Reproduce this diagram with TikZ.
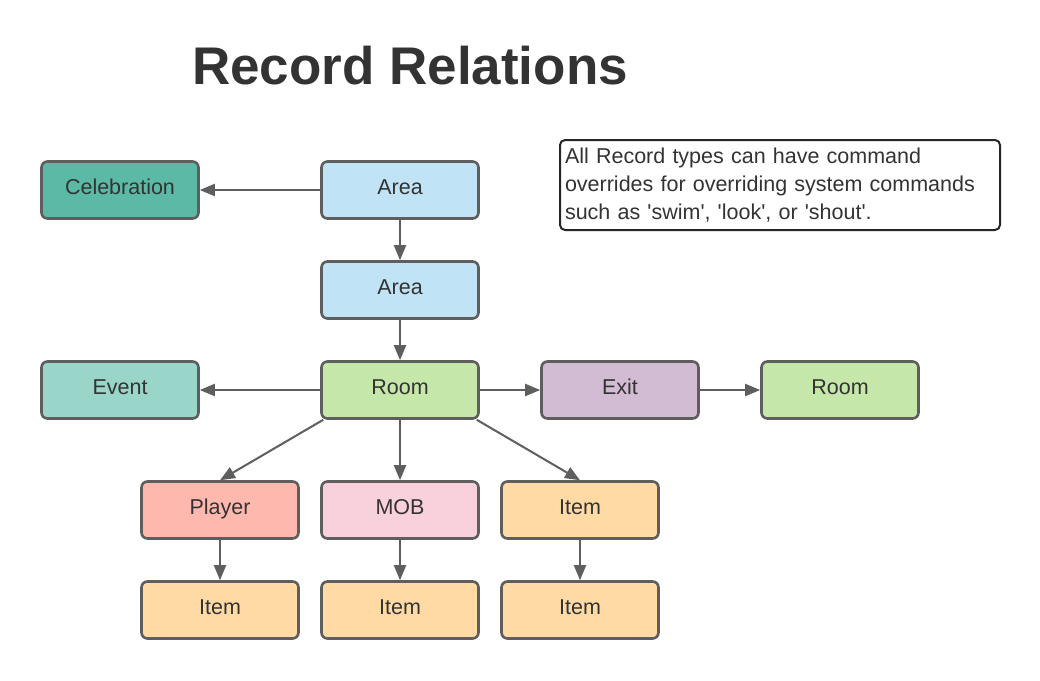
\documentclass[tikz,border=0pt]{standalone}
\usepackage{fontspec}
\setmainfont{Liberation Sans}
\usetikzlibrary{arrows.meta,positioning}
\definecolor{bordc}{HTML}{5E5E5E}
\definecolor{txtc}{HTML}{333333}
\definecolor{celc}{HTML}{5BB9A6}
\definecolor{areac}{HTML}{C1E3F6}
\definecolor{eventc}{HTML}{9AD5CA}
\definecolor{roomc}{HTML}{C6E7AA}
\definecolor{exitc}{HTML}{D2BCD3}
\definecolor{playc}{HTML}{FFB8AE}
\definecolor{mobc}{HTML}{F9D1DC}
\definecolor{itemc}{HTML}{FFDAA5}
\tikzset{
  box/.style={draw=bordc, line width=2.6pt, rounded corners=6pt,
    minimum width=157pt, minimum height=57pt, inner sep=0pt,
    text height=15.5pt, text depth=6.5pt,
    text=txtc, font=\fontsize{21.5}{26}\selectfont},
  conn/.style={draw=bordc, line width=2pt, -{Triangle[length=15pt,width=12pt]}},
}
\begin{document}
\begin{tikzpicture}[x=1pt,y=-1pt]
\useasboundingbox[fill=white] (0,0) rectangle (1040,680);
\node[text=txtc, font=\bfseries\fontsize{53}{60}\selectfont] (title) at (410,66) {Record Relations};
\node[box, fill=celc] (cel) at (120,190) {Celebration};
\node[box, fill=areac] (area1) at (400,190) {Area};
\node[box, fill=areac] (area2) at (400,290) {Area};
\node[box, fill=eventc] (event) at (120,390) {Event};
\node[box, fill=roomc] (room) at (400,390) {Room};
\node[box, fill=exitc] (exit) at (620,390) {Exit};
\node[box, fill=roomc] (room2) at (840,390) {Room};
\node[box, fill=playc] (player) at (220,510) {Player};
\node[box, fill=mobc] (mob) at (400,510) {MOB};
\node[box, fill=itemc] (item) at (580,510) {Item};
\node[box, fill=itemc] (item1) at (220,610) {Item};
\node[box, fill=itemc] (item2) at (400,610) {Item};
\node[box, fill=itemc] (item3) at (580,610) {Item};
\node[draw=black!85, line width=2pt, rounded corners=5pt, minimum width=440pt, minimum height=90pt,
  text=txtc, font=\fontsize{21.5}{28}\selectfont, align=left, inner sep=4pt, text width=430pt] (note) at (780,185)
  {All Record types can have command\\overrides for overriding system commands\\such as \textquotesingle swim\textquotesingle, \textquotesingle look\textquotesingle, or \textquotesingle shout\textquotesingle.};
\draw[conn] (area1) -- (cel);
\draw[conn] (area1) -- (area2);
\draw[conn] (area2) -- (room);
\draw[conn] (room) -- (event);
\draw[conn] (room) -- (exit);
\draw[conn] (exit) -- (room2);
\draw[conn] ([xshift=3pt]room.south west) -- (player.north);
\draw[conn] (room) -- (mob);
\draw[conn] ([xshift=-3pt]room.south east) -- (item.north);
\draw[conn] (player) -- (item1);
\draw[conn] (mob) -- (item2);
\draw[conn] (item) -- (item3);
\end{tikzpicture}
\end{document}
